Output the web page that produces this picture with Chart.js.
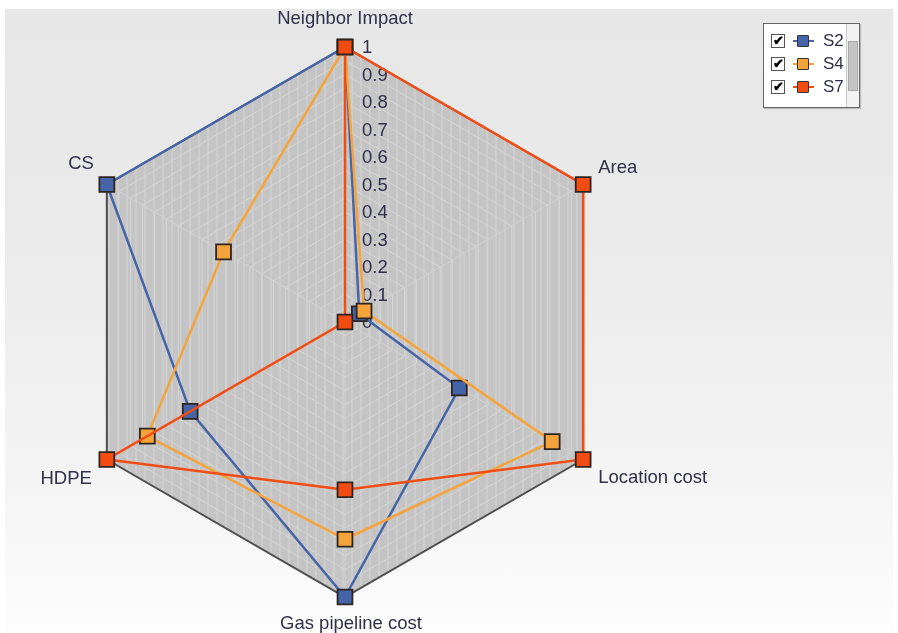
<!DOCTYPE html>
<html>
<head>
<meta charset="utf-8">
<script src="https://cdn.jsdelivr.net/npm/chart.js@4.4.0/dist/chart.umd.min.js"></script>
<style>
  html, body { margin: 0; padding: 0; background: #fff; }
  body { width: 898px; height: 633px; position: relative; overflow: hidden; font-family: "Liberation Sans", Arial, sans-serif; }
  #panel { position: absolute; left: 5px; top: 9px; width: 888px; height: 624px;
    background: linear-gradient(#e7e7e7 0%, #eaeaea 35%, #f4f4f4 75%, #fdfdfd 100%); }
  #radar { position: absolute; left: 0; top: 0; }
  #legend { position: absolute; left: 763px; top: 23px; width: 97px; height: 85px;
    background: #fff; border: 1px solid #666; box-sizing: border-box; box-shadow: 1px 1px 1px #bbb; }
  .row { position: absolute; left: 7px; height: 18px; }
  .chk { position: absolute; left: 0; top: 2px; width: 12px; height: 12px; border: 1px solid #555;
    background: #fff; font-size: 13px; font-weight: bold; line-height: 12px; text-align: center; color: #000; }
  .mk-line { position: absolute; left: 22px; top: 8px; width: 21px; height: 2px; }
  .mk-box { position: absolute; left: 26px; top: 3px; width: 12px; height: 12px; border: 1px solid #333; box-sizing: border-box; border-radius: 1px; }
  .lbl { position: absolute; left: 52px; top: -1px; font-size: 17px; color: #30304a; }
  #scroll { position: absolute; right: 0; top: 0; width: 12px; height: 83px; background: #f2f2f2; border-left: 1px solid #ccc; }
  #thumb { position: absolute; left: 1px; top: 17px; width: 10px; height: 50px; background: #c4c4c4; border: 1px solid #aaa; box-sizing: border-box; }
</style>
</head>
<body>
<div id="panel"></div>
<canvas id="radar" width="898" height="633"></canvas>
<div id="legend"><div id="scroll"><div id="thumb"></div></div></div>
<script>
// axes, clockwise from the top
const categories = ['Neighbor Impact', 'Area', 'Location cost', 'Gas pipeline cost', 'HDPE', 'CS'];
const seriesNames = ['S2', 'S4', 'S7'];
const seriesColors = ['#4565a8', '#f5a43c', '#f24c12'];
const s2Values = [1, 0.06, 0.48, 1, 0.65, 1];
const s4Values = [1, 0.08, 0.87, 0.79, 0.83, 0.51];
const s7Values = [1, 1, 1, 0.61, 1, 0];
const tickLabels = ['0', '0.1', '0.2', '0.3', '0.4', '0.5', '0.6', '0.7', '0.8', '0.9', '1'];

const textColor = '#30304a';
const labelFont = '18.5px "Liberation Sans", Arial, sans-serif';

// faint vertical stripes inside the web
const stripe = document.createElement('canvas');
stripe.width = 9;
stripe.height = 4;
const sctx = stripe.getContext('2d');
sctx.fillStyle = '#c4c4c4';
sctx.fillRect(0, 0, 9, 4);
sctx.fillStyle = '#cdcdcd';
sctx.fillRect(0, 0, 2, 4);
const stripePattern = sctx.createPattern(stripe, 'repeat');

// legend rows
const legendEl = document.getElementById('legend');
seriesNames.forEach((name, i) => {
  const row = document.createElement('div');
  row.className = 'row';
  row.style.top = (8 + i * 23) + 'px';
  row.innerHTML = '<div class="chk">&#10004;</div>' +
    '<div class="mk-line" style="background:' + seriesColors[i] + '"></div>' +
    '<div class="mk-box" style="background:' + seriesColors[i] + '"></div>' +
    '<div class="lbl">' + name + '</div>';
  legendEl.appendChild(row);
});

// point labels: offsets from each outer vertex
const labelPlace = [
  { dx: 0, dy: -28, align: 'center' },
  { dx: 15, dy: -17, align: 'left' },
  { dx: 15, dy: 18, align: 'left' },
  { dx: 6, dy: 27, align: 'center' },
  { dx: -15, dy: 19, align: 'right' },
  { dx: -13, dy: -21, align: 'right' }
];

const radarText = {
  id: 'radarText',
  beforeDatasetsDraw(chart) {
    const scale = chart.scales.r;
    const ctx = chart.ctx;
    ctx.save();
    ctx.font = labelFont;
    ctx.fillStyle = textColor;
    ctx.textBaseline = 'middle';

    // tick labels along the top axis
    ctx.textAlign = 'left';
    tickLabels.forEach((t) => {
      const d = scale.getDistanceFromCenterForValue(parseFloat(t));
      ctx.fillText(t, scale.xCenter + 17, scale.yCenter - d + 1);
    });

    // axis names
    categories.forEach((c, i) => {
      const p = scale.getPointPositionForValue(i, 1);
      const place = labelPlace[i];
      ctx.textAlign = place.align;
      ctx.fillText(c, p.x + place.dx, p.y + place.dy);
    });
    ctx.restore();
  }
};

function series(i, values) {
  return {
    label: seriesNames[i],
    data: values,
    borderColor: seriesColors[i],
    backgroundColor: seriesColors[i],
    borderWidth: 2.5,
    fill: false,
    pointStyle: 'rect',
    pointRadius: 10.5,
    pointHoverRadius: 10.5,
    pointBorderColor: '#2e2420',
    pointBorderWidth: 1.8,
    pointBackgroundColor: seriesColors[i],
    order: 3 - i
  };
}

// eslint-disable-next-line no-new
new Chart(document.getElementById('radar'), {
  type: 'radar',
  data: {
    labels: categories,
    datasets: [series(0, s2Values), series(1, s4Values), series(2, s7Values)]
  },
  options: {
    responsive: false,
    animation: false,
    devicePixelRatio: 1,
    layout: { padding: { left: 70, right: 278, top: 47, bottom: 36 } },
    elements: { line: { tension: 0 } },
    plugins: { legend: { display: false }, tooltip: { enabled: false } },
    scales: {
      r: {
        min: 0,
        max: 1,
        backgroundColor: stripePattern,
        ticks: { display: false, stepSize: 0.05 },
        pointLabels: { display: false },
        angleLines: { color: '#d2d2d2', lineWidth: 1 },
        grid: {
          color: (ctx) => (ctx.index === 20 ? '#4e4e4e' : '#d6d6d6'),
          lineWidth: (ctx) => (ctx.index === 20 ? 2 : 1)
        }
      }
    }
  },
  plugins: [radarText]
});
</script>
</body>
</html>
